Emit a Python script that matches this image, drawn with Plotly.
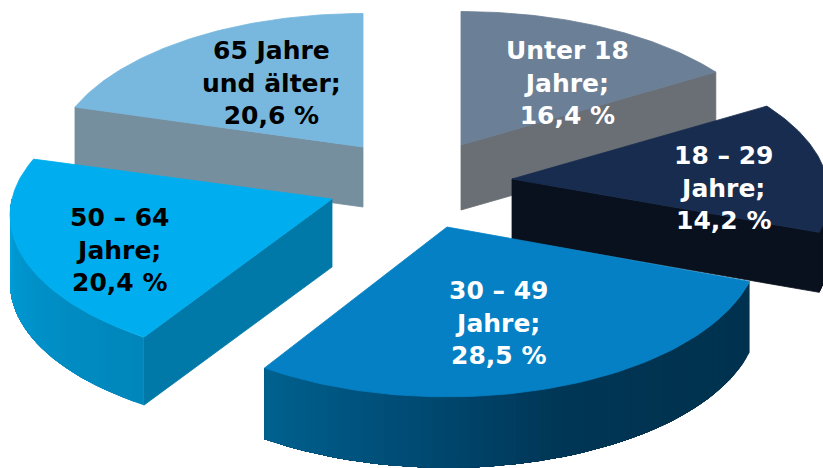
import math
import plotly.graph_objects as go

# --- data ---
labels = ["Unter 18<br>Jahre;", "18 – 29<br>Jahre;", "30 – 49<br>Jahre;", "50 – 64<br>Jahre;", "65 Jahre<br>und älter;"]
shares = [16.4, 14.2, 28.5, 20.4, 20.6]

# --- styling / layout ---
W, H = 823, 468
RX, RY, PERSP = 320.0, 150.0, 0.11
rx_scale = [0.985, 0.985, 0.97, 1.0, 0.965]
ry_scale = [1.0, 1.0, 1.02, 1.0, 1.0]
apex = [(461, 145), (512, 179), (447, 227), (332, 199), (363, 147)]
depth = [65, 60, 71, 68, 60]
top_col = ["#6b7f96", "#172c4e", "#0580c4", "#00aeef", "#78b8de"]
face_col = ["#696f75", "#0a111e", "#005f8e", "#0078a8", "#768f9f"]
arc_stops = [
    ["#696f75", "#696f75"],
    ["#0a111e", "#0a111e"],
    ["#00324f", "#00334f", "#003656", "#004c75", "#00618f"],
    ["#0086ba", "#0090c8", "#00a2dc"],
    ["#768f9f", "#768f9f"],
]
text_col = ["white", "white", "white", "black", "black"]
text_pos = [(567, 83), (724, 188), (499, 323), (120, 250), (271, 83)]
draw_order = [0, 4, 1, 3, 2]


def project(i, deg):
    t = math.radians(deg)
    s = 1 - PERSP * math.cos(t)
    return (apex[i][0] + RX * rx_scale[i] * s * math.sin(t),
            apex[i][1] - RY * ry_scale[i] * s * math.cos(t))


def lerp_hex(stops, f):
    f = min(max(f, 0.0), 1.0) * (len(stops) - 1)
    k = min(int(f), len(stops) - 2)
    u = f - k
    a = [int(stops[k][j:j + 2], 16) for j in (1, 3, 5)]
    b = [int(stops[k + 1][j:j + 2], 16) for j in (1, 3, 5)]
    return "#%02x%02x%02x" % tuple(round(a[c] + (b[c] - a[c]) * u) for c in range(3))


def poly(xs, ys, color, lw=0.8):
    return go.Scatter(x=xs, y=ys, mode="lines", fill="toself", fillcolor=color,
                      line=dict(color=color, width=lw), hoverinfo="skip", showlegend=False)


fig = go.Figure()
total = sum(shares)
edges = [0.0]
for v in shares:
    edges.append(edges[-1] + v / total * 360)

for i in draw_order:
    a, b = edges[i], edges[i + 1]
    d = depth[i]
    ax, ay = apex[i]
    # cut faces turned towards the viewer
    if math.sin(math.radians(a)) < -1e-6:
        x, y = project(i, a)
        fig.add_trace(poly([ax, x, x, ax, ax], [ay, y, y + d, ay + d, ay], face_col[i]))
    if math.sin(math.radians(b)) > 1e-6:
        x, y = project(i, b)
        fig.add_trace(poly([ax, x, x, ax, ax], [ay, y, y + d, ay + d, ay], face_col[i]))
    # outer rim, the part facing the viewer: each strip runs on to the end of the
    # rim and is painted over by the next one, so no seams show between strips
    lo, hi = max(a, 90.0), min(b, 270.0)
    if hi > lo:
        n = max(int((hi - lo) / 2), 3)
        for k in range(n):
            xs, ys = [], []
            for j in range(k, n + 1):
                x, y = project(i, lo + (hi - lo) * j / n)
                xs.append(x)
                ys.append(y)
            xs2 = xs + xs[::-1] + [xs[0]]
            ys2 = ys + [v + d for v in ys[::-1]] + [ys[0]]
            fig.add_trace(poly(xs2, ys2, lerp_hex(arc_stops[i], (k + 0.5) / n), lw=0))
    # top face
    m = 80
    pts = [project(i, a + (b - a) * k / m) for k in range(m + 1)]
    fig.add_trace(poly([ax] + [p[0] for p in pts] + [ax], [ay] + [p[1] for p in pts] + [ay], top_col[i]))

for i, lab in enumerate(labels):
    pct = f"{shares[i]:.1f}".replace(".", ",") + " %"
    fig.add_annotation(x=text_pos[i][0], y=text_pos[i][1], text=f"<b>{lab}<br>{pct}</b>",
                       showarrow=False, align="center", xanchor="center", yanchor="middle",
                       font=dict(family="DejaVu Sans", size=25, color=text_col[i]))

fig.update_layout(width=W, height=H, margin=dict(l=0, r=0, t=0, b=0),
                  paper_bgcolor="white", plot_bgcolor="white", showlegend=False,
                  xaxis=dict(range=[0, W], visible=False, fixedrange=True),
                  yaxis=dict(range=[H, 0], visible=False, fixedrange=True))
fig.write_html("out.html", config=dict(displayModeBar=False),
               post_script="document.documentElement.style.overflow='hidden';document.body.style.margin='0';")
